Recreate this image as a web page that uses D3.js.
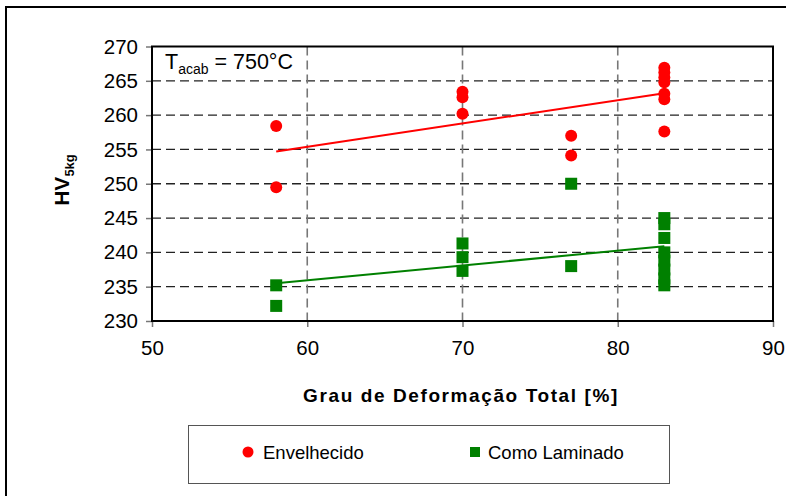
<!DOCTYPE html>
<html><head><meta charset="utf-8">
<script src="https://cdn.jsdelivr.net/npm/d3@7"></script>
<style>body{margin:0;background:#fff}svg{display:block;font-family:Arial,"Liberation Sans",sans-serif}</style>
</head><body>
<svg id="c" width="786" height="496"></svg>
<script>
const xTicks = [50,60,70,80,90];
const yTicks = [230,235,240,245,250,255,260,265,270];
const envX = [58,58,70,70,70,77,77,83,83,83,83,83,83,83];
const envY = [258.4,249.5,263.4,262.6,260.2,257.0,254.1,266.9,266.2,265.5,264.8,263.1,262.3,257.6];
const lamX = [58,58,70,70,70,77,77,83,83,83,83,83,83,83,83];
const lamY = [235.2,232.2,241.3,239.3,237.3,250.0,238.0,245.0,244.1,242.1,240.0,238.8,237.5,236.2,235.2];
const envTrendX = [58,83], envTrendY = [254.7,263.2];
const lamTrendX = [58,83], lamTrendY = [235.5,240.9];
const seriesNames = ["Envelhecido","Como Laminado"];
const xTitle = "Grau de Deformação Total [%]";

const svg = d3.select("#c");
const L=152, R=773, T=46.5, B=321;
const x = d3.scaleLinear().domain([50,90]).range([L,R]);
const y = d3.scaleLinear().domain([230,270]).range([B,T]);

// outer frame
svg.append("rect").attr("x",6).attr("y",7).attr("width",800).attr("height",500)
  .attr("fill","none").attr("stroke","#000").attr("stroke-width",2);

// gridlines
svg.append("g").selectAll("line").data(yTicks.filter(v=>v>230&&v<270)).join("line")
  .attr("x1",L).attr("x2",R).attr("y1",d=>y(d)).attr("y2",d=>y(d))
  .attr("stroke","#222").attr("stroke-width",1.3).attr("stroke-dasharray","9,5");
svg.append("g").selectAll("line").data(xTicks.filter(v=>v>50&&v<90)).join("line")
  .attr("y1",T).attr("y2",B).attr("x1",d=>x(d)).attr("x2",d=>x(d))
  .attr("stroke","#777").attr("stroke-width",1.6).attr("stroke-dasharray","9,5");

// axes
const ya = svg.append("g").attr("transform",`translate(${L},0)`)
  .call(d3.axisLeft(y).tickValues(yTicks).tickSize(6).tickPadding(8));
const xa = svg.append("g").attr("transform",`translate(0,${B})`)
  .call(d3.axisBottom(x).tickValues(xTicks).tickSize(6).tickPadding(13));
[ya,xa].forEach(a=>{
  a.select(".domain").remove();
  a.selectAll(".tick line").attr("stroke","#777").attr("stroke-width",1.5);
  a.selectAll("text").attr("font-size",20.5).attr("fill","#000").attr("font-family","Arial,'Liberation Sans',sans-serif");
});

// plot border
svg.append("rect").attr("x",L).attr("y",T).attr("width",R-L).attr("height",B-T)
  .attr("fill","none").attr("stroke","#000").attr("stroke-width",2);

// trend lines
const line = d3.line().x(d=>x(d[0])).y(d=>y(d[1]));
svg.append("path").datum(d3.zip(envTrendX,envTrendY)).attr("d",line)
  .attr("stroke","#ff0000").attr("stroke-width",2).attr("fill","none");
svg.append("path").datum(d3.zip(lamTrendX,lamTrendY)).attr("d",line)
  .attr("stroke","#008000").attr("stroke-width",2).attr("fill","none");

// points
svg.append("g").selectAll("circle").data(d3.zip(envX,envY)).join("circle")
  .attr("cx",d=>x(d[0])).attr("cy",d=>y(d[1])).attr("r",6).attr("fill","#ff0000");
svg.append("g").selectAll("rect").data(d3.zip(lamX,lamY)).join("rect")
  .attr("x",d=>x(d[0])-6).attr("y",d=>y(d[1])-6).attr("width",12).attr("height",12).attr("fill","#008000");

// annotation
const ann = svg.append("text").attr("x",165).attr("y",69).attr("font-size",21.5);
ann.append("tspan").text("T");
ann.append("tspan").attr("font-size",14).attr("dy",5).text("acab");
ann.append("tspan").attr("dy",-5).text(" = 750°C");

// axis titles
svg.append("text").attr("x",461).attr("y",402).attr("text-anchor","middle")
  .attr("font-size",19).attr("font-weight","bold").attr("letter-spacing",1.6).text(xTitle);
const yt = svg.append("text").attr("transform","translate(69,180) rotate(-90)")
  .attr("text-anchor","middle").attr("font-size",21).attr("font-weight","bold");
yt.append("tspan").text("HV");
yt.append("tspan").attr("font-size",13).attr("dy",5).text("5kg");

// legend
svg.append("rect").attr("x",188.5).attr("y",425.5).attr("width",481).attr("height",58)
  .attr("fill","#fff").attr("stroke","#555").attr("stroke-width",1);
svg.append("circle").attr("cx",248).attr("cy",452).attr("r",5.5).attr("fill","#ff0000");
svg.append("text").attr("x",263).attr("y",459).attr("font-size",18.5).text(seriesNames[0]);
svg.append("rect").attr("x",470).attr("y",447).attr("width",10).attr("height",10).attr("fill","#008000");
svg.append("text").attr("x",488).attr("y",459).attr("font-size",18.5).text(seriesNames[1]);
</script>
</body></html>
